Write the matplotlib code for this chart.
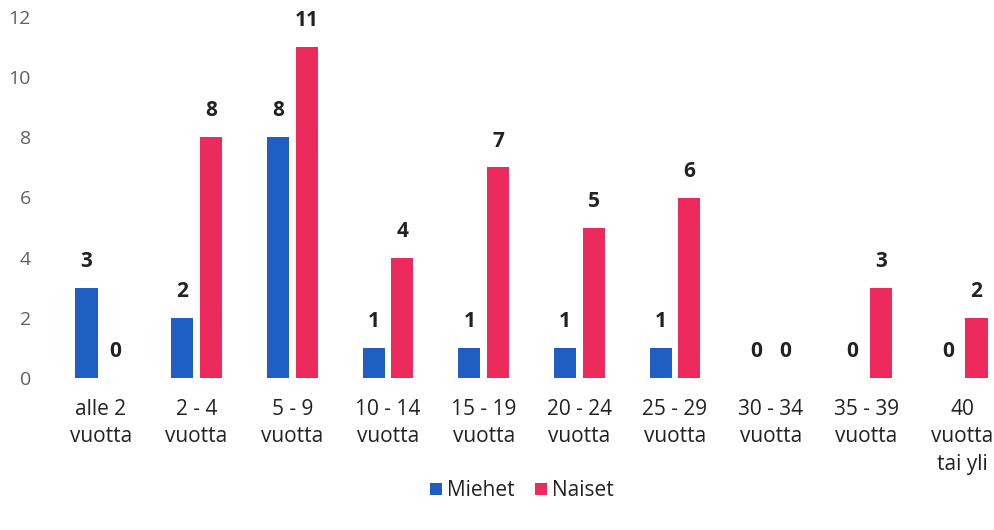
import matplotlib
matplotlib.use("Agg")
import matplotlib.pyplot as plt
import numpy as np

categories = ["alle 2\nvuotta", "2 - 4\nvuotta", "5 - 9\nvuotta", "10 - 14\nvuotta", "15 - 19\nvuotta",
              "20 - 24\nvuotta", "25 - 29\nvuotta", "30 - 34\nvuotta", "35 - 39\nvuotta", "40\nvuotta\ntai yli"]
miehet = [3, 2, 8, 1, 1, 1, 1, 0, 0, 0]
naiset = [0, 8, 11, 4, 7, 5, 6, 0, 3, 2]
yticks = [0, 2, 4, 6, 8, 10, 12]

plt.rcParams['font.family'] = ['Open Sans', 'DejaVu Sans']
blue = "#1f5fc4"
pink = "#ec2a5c"

fig = plt.figure(figsize=(9.95, 5.30), dpi=100)
ax = fig.add_axes([53/995, (530-378)/530, (1010-53)/995, (378-17)/530])

x = np.arange(len(categories))
w = 0.23
off = 0.15
b1 = ax.bar(x - off, miehet, w, color=blue, label="Miehet")
b2 = ax.bar(x + off, naiset, w, color=pink, label="Naiset")

for bars, vals in ((b1, miehet), (b2, naiset)):
    for r, v in zip(bars, vals):
        ax.annotate(str(v), (r.get_x() + r.get_width()/2, v), xytext=(0, 19),
                    textcoords="offset points", ha="center", va="center",
                    fontsize=15, fontweight="bold", color="#222222")

ax.set_xlim(-0.5, len(categories) - 0.5)
ax.set_ylim(0, 12)
ax.set_yticks(yticks)
ax.set_yticklabels([str(t) for t in yticks], color="#606060", fontsize=14)
ax.set_xticks(x)
ax.set_xticklabels(categories, fontsize=15, color="#222222", linespacing=1.4)
ax.tick_params(axis="both", length=0)
ax.tick_params(axis="y", pad=16)
ax.tick_params(axis="x", pad=15)
for s in ax.spines.values():
    s.set_visible(False)

fig.legend(handles=[b1, b2], loc="center", bbox_to_anchor=(522/995, (530-491)/530), ncol=2,
           frameon=False, fontsize=15, handlelength=0.55, handleheight=0.55,
           handletextpad=0.25, columnspacing=1.0, labelcolor="#222222")

fig.savefig("out.png", dpi=100)
